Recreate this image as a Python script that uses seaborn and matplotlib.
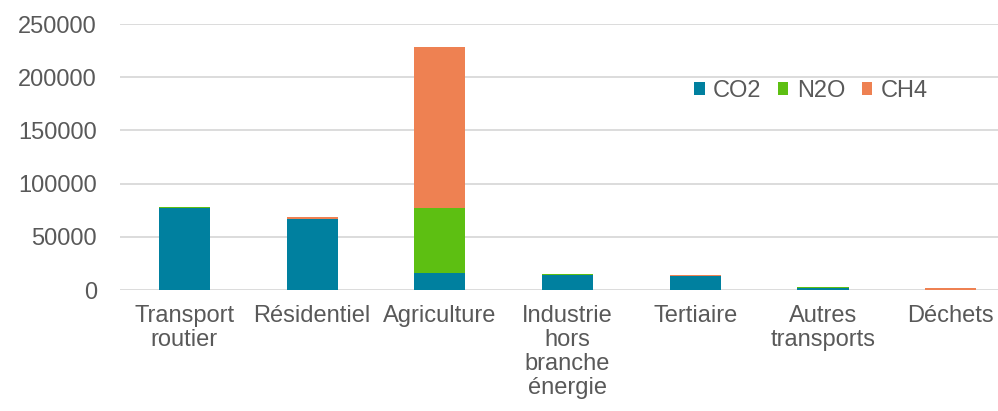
import matplotlib
matplotlib.use("Agg")
import matplotlib.pyplot as plt
from matplotlib.patches import Patch
import numpy as np
import seaborn as sns

# ── Data ───────────────────────────────────────────────────────
SECTORS = ["Transport\nroutier", "Résidentiel", "Agriculture",
           "Industrie\nhors\nbranche\nénergie", "Tertiaire",
           "Autres\ntransports", "Déchets"]
CO2 = [77400, 66700, 16000, 13700, 13200, 2200, 300]
N2O = [500, 300, 60800, 900, 300, 600, 100]
CH4 = [400, 1600, 151900, 200, 300, 200, 1800]
GASES = ["CO2", "N2O", "CH4"]
COLORS = {"CO2": "#00809F", "N2O": "#5DBF12", "CH4": "#EE8152"}
YTICKS = [0, 50000, 100000, 150000, 200000, 250000]

TEXT = "#595959"
GRID = "#D9D9D9"

sns.set_style("white")
plt.rcParams["font.family"] = ["Liberation Sans", "DejaVu Sans"]

fig = plt.figure(figsize=(9.98, 4.11), dpi=100)
ax = fig.add_axes([0.1207, 0.2944, 0.8793, 0.6472])

bottom = np.zeros(len(SECTORS))
for gas, vals in zip(GASES, [CO2, N2O, CH4]):
    sns.barplot(x=SECTORS, y=vals, bottom=bottom, color=COLORS[gas],
                width=0.4, ax=ax, saturation=1, linewidth=0, zorder=3)
    bottom += np.array(vals)

ax.set_xlim(-0.5, 6.37)
ax.set_ylim(0, 250000)
ax.set_yticks(YTICKS)
ax.set_yticklabels([str(v) for v in YTICKS])
ax.yaxis.grid(True, color=GRID, linewidth=1.3, zorder=0)
ax.set_axisbelow(True)
for s in ax.spines.values():
    s.set_visible(False)
ax.tick_params(axis="both", length=0, labelsize=17, colors=TEXT)
ax.tick_params(axis="y", pad=17)
ax.tick_params(axis="x", pad=10.5)
for lbl in ax.get_xticklabels():
    lbl.set_linespacing(1.12)
ax.set_xlabel("")
ax.set_ylabel("")

handles = [Patch(facecolor=COLORS[g], edgecolor="none", label=g) for g in GASES]
ax.legend(handles=handles, loc="center left", bbox_to_anchor=(0.64, 0.748),
          ncol=3, frameon=False, fontsize=17, labelcolor=TEXT,
          handlelength=0.45, handleheight=0.45, handletextpad=0.35,
          columnspacing=0.7, borderpad=0)

plt.savefig("out.png", dpi=100)
plt.close()
